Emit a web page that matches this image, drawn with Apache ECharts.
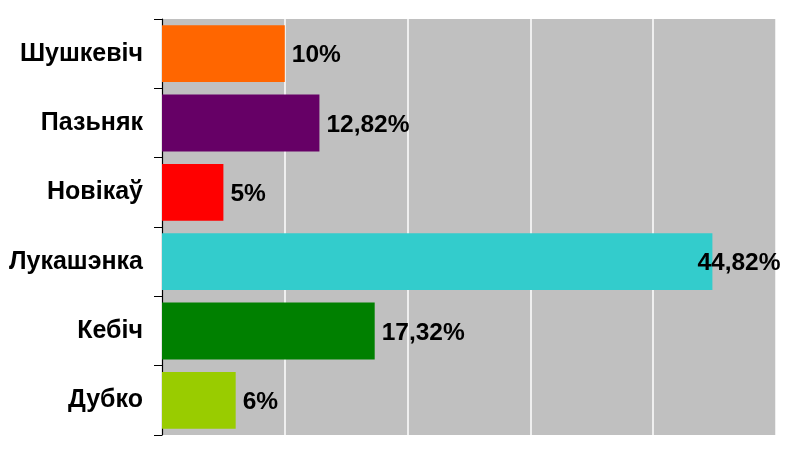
<!DOCTYPE html>
<html><head><meta charset="utf-8">
<script src="https://cdn.jsdelivr.net/npm/echarts@6/dist/echarts.min.js"></script>
<style>html,body{margin:0;padding:0;background:#fff}#c{width:800px;height:471px}</style>
</head><body><div id="c"></div>
<script>
var categories = ["Шушкевіч","Пазьняк","Новікаў","Лукашэнка","Кебіч","Дубко"];
var values = [10, 12.82, 5, 44.82, 17.32, 6];
var valueLabels = ["10%","12,82%","5%","44,82%","17,32%","6%"];
var colors = ["#FF6600","#660066","#FF0000","#33CCCC","#008000","#99CC00"];

var chart = echarts.init(document.getElementById('c'));
var data = values.map(function(v,i){
  var d = {value:v, itemStyle:{color:colors[i]}};
  if (i === 3) d.label = {offset:[-22,2]};
  return d;
});
chart.setOption({
  animation:false,
  grid:{left:162,right:24,top:19,bottom:36,show:true,backgroundColor:'#C0C0C0',borderWidth:0},
  xAxis:{type:'value',min:0,max:50,interval:10,
    axisLine:{show:false},axisTick:{show:false},axisLabel:{show:false},
    splitLine:{show:true,lineStyle:{color:'#FFFFFF',width:1.5}}},
  yAxis:{type:'category',inverse:true,data:categories,
    axisLine:{show:true,lineStyle:{color:'#000',width:1.2}},
    axisTick:{show:true,length:8,lineStyle:{color:'#000'}},
    axisLabel:{margin:19,color:'#000',fontFamily:'Liberation Sans',fontWeight:'bold',fontSize:25,padding:[3,0,0,0]},
    splitLine:{show:false}},
  series:[{type:'bar',data:data,barCategoryGap:'18%',
    label:{show:true,position:'right',distance:7,offset:[0,2],color:'#000',fontFamily:'Liberation Sans',fontWeight:'bold',fontSize:24.5,
      formatter:function(p){return valueLabels[p.dataIndex];}}}]
});
</script></body></html>
